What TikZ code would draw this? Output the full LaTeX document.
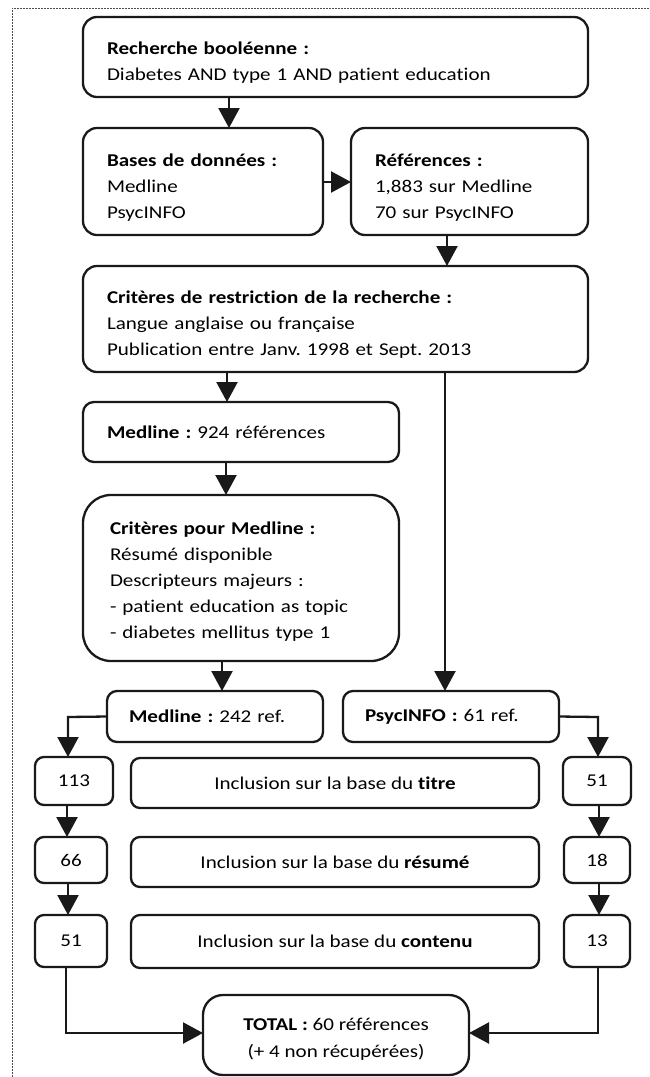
\documentclass[tikz,border=0pt]{standalone}
\usepackage{fontspec}
\setmainfont{Carlito}[FakeStretch=1.17, Ligatures=NoCommon]
\usetikzlibrary{arrows.meta}
\newcommand{\padtop}[1]{\rule{0pt}{#1}}
\begin{document}
\frenchspacing
\begin{tikzpicture}[x=1pt,y=-1pt,
  box/.style={draw=black!90, line width=2.3pt, rounded corners=14pt, outer sep=0pt,
    anchor=north west, font=\fontsize{18}{26}\selectfont},
  lbox/.style={box, align=left, inner xsep=24pt},
  cbox/.style={box, align=center, inner sep=0pt, rounded corners=9pt},
  conn/.style={line width=2.3pt, draw=black!90},
  arr/.style={conn, -{Triangle[length=20pt,width=21pt]}},
  frame/.style={draw=black!70, line width=0.6pt, dash pattern=on 2pt off 1pt}
]
\useasboundingbox (0,0) rectangle (649,1077);
\coordinate (ftl) at (12,8);
\coordinate (ftr) at (649,8);
\coordinate (fbl) at (12,1077);
\draw[frame] (fbl) -- (ftl) -- (ftr);

\node[lbox, minimum width=505pt, minimum height=80pt, text width=457pt] (A) at (83,17)
  {\padtop{23pt}\textbf{Recherche booléenne :}\\Diabetes AND type 1 AND patient education};
\node[lbox, minimum width=240pt, minimum height=107pt, text width=192pt] (B) at (83,128)
  {\padtop{24pt}\textbf{Bases de données :}\\Medline\\PsycINFO};
\node[lbox, minimum width=237pt, minimum height=107pt, text width=189pt] (C) at (351,128)
  {\padtop{24pt}\textbf{Références :}\\1,883 sur Medline\\70 sur PsycINFO};
\node[lbox, minimum width=505pt, minimum height=106pt, text width=457pt] (D) at (83,266)
  {\padtop{23pt}\textbf{Critères de restriction de la recherche :}\\Langue anglaise ou française\\Publication entre Janv. 1998 et Sept. 2013};
\node[lbox, minimum width=316pt, minimum height=60pt, text width=268pt, rounded corners=11pt] (E) at (83,402)
  {\textbf{Medline :} 924 références};
\node[lbox, minimum width=316pt, minimum height=166pt, text width=262pt, inner xsep=27pt, rounded corners=28pt] (F) at (83,495)
  {\padtop{19pt}\textbf{Critères pour Medline :}\\Résumé disponible\\Descripteurs majeurs :\\- patient education as topic\\- diabetes mellitus type 1};
\node[lbox, minimum width=216pt, minimum height=51pt, text width=172pt, inner xsep=22pt, rounded corners=10pt] (G) at (107,691)
  {\textbf{Medline :} 242 ref.};
\node[lbox, minimum width=216pt, minimum height=51pt, text width=172pt, inner xsep=22pt, rounded corners=10pt] (H) at (343,691)
  {\textbf{PsycINFO :} 61 ref.};

\node[cbox, minimum width=78pt, minimum height=48pt] (n113) at (35,757) {113};
\node[cbox, minimum width=408pt, minimum height=50pt] (inc1) at (131,758) {Inclusion sur la base du \textbf{titre}};
\node[cbox, minimum width=68pt, minimum height=48pt] (n51r) at (563,757) {51};
\node[cbox, minimum width=72pt, minimum height=46pt] (n66) at (35,837) {66};
\node[cbox, minimum width=408pt, minimum height=50pt] (inc2) at (131,837) {Inclusion sur la base du \textbf{résumé}};
\node[cbox, minimum width=66pt, minimum height=46pt] (n18) at (564,837) {18};
\node[cbox, minimum width=72pt, minimum height=52pt] (n51l) at (35,915) {51};
\node[cbox, minimum width=408pt, minimum height=53pt] (inc3) at (131,915) {Inclusion sur la base du \textbf{contenu}};
\node[cbox, minimum width=66pt, minimum height=52pt] (n13) at (564,915) {13};
\node[cbox, minimum width=266pt, minimum height=80pt, rounded corners=20pt, font=\fontsize{18}{27}\selectfont] (T) at (203,995)
  {\padtop{20pt}\textbf{TOTAL :} 60 références\\(+ 4 non récupérées)};

\coordinate (gl) at (68,717);
\coordinate (hr) at (598,717);
\coordinate (bl) at (66,1033);
\coordinate (br) at (598,1033);

\draw[arr] (A.south -| 229,0) -- (B.north -| 229,0);
\draw[arr] (B.east |- 0,182) -- (C.west |- 0,182);
\draw[arr] (C.south -| 447,0) -- (D.north -| 447,0);
\draw[arr] (D.south -| 227,0) -- (E.north -| 227,0);
\draw[arr] (E.south -| 226,0) -- (F.north -| 226,0);
\draw[arr] (D.south -| 445,0) -- (H.north -| 445,0);
\draw[arr] (F.south -| 222,0) -- (G.north -| 222,0);
\draw[arr] (G.west) -- (gl) -- (n113.north -| gl);
\draw[arr] (H.east) -- (hr) -- (n51r.north -| hr);
\draw[arr] (n113.south -| 67,0) -- (n66.north -| 67,0);
\draw[arr] (n66.south -| 68,0) -- (n51l.north -| 68,0);
\draw[arr] (n51r.south -| 599,0) -- (n18.north -| 599,0);
\draw[arr] (n18.south -| 599,0) -- (n13.north -| 599,0);
\draw[arr] (n51l.south -| bl) -- (bl) -- (T.west |- bl);
\draw[arr] (n13.south -| br) -- (br) -- (T.east |- br);
\end{tikzpicture}
\end{document}
